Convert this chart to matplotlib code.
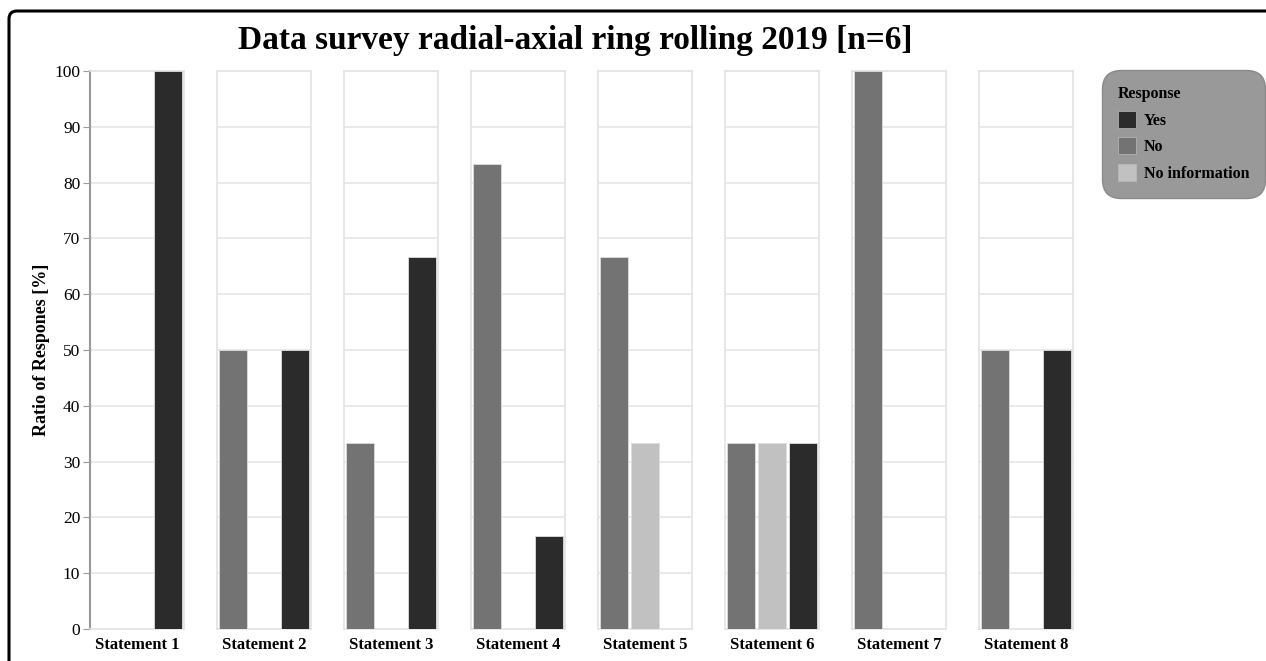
import matplotlib
matplotlib.use("Agg")
import matplotlib.pyplot as plt
from matplotlib.patches import FancyBboxPatch, Patch
from matplotlib.transforms import IdentityTransform
import numpy as np

plt.rcParams['font.family'] = ['Liberation Serif', 'DejaVu Serif']

statements = ['Statement %d' % i for i in range(1, 9)]
responses = ['No', 'No information', 'Yes']
colors = {'Yes': '#2b2b2b', 'No': '#737373', 'No information': '#c1c1c1'}

# percent of n=6 answers per statement
no_vals = [0, 50, 33.33, 83.33, 66.67, 33.33, 100, 50]
noinfo_vals = [0, 0, 0, 0, 33.33, 33.33, 0, 0]
yes_vals = [100, 50, 66.67, 16.67, 0, 33.33, 0, 50]
values = {'No': no_vals, 'No information': noinfo_vals, 'Yes': yes_vals}

W, H = 1266, 661
fig = plt.figure(figsize=(W / 100, H / 100), dpi=100)

# rounded black frame around everything
frame = FancyBboxPatch((9, -30), 1300, H - 11 + 30, boxstyle='round,pad=0,rounding_size=8',
                       transform=IdentityTransform(), facecolor='none', edgecolor='black',
                       linewidth=2.2, zorder=0)
fig.patches.append(frame)

left0, step, pw = 90, 127, 94
top, bottom = 71, 629
for i, st in enumerate(statements):
    ax = fig.add_axes([(left0 + step * i) / W, 1 - bottom / H, pw / W, (bottom - top) / H])
    for j, r in enumerate(responses):
        v = values[r][i]
        if v > 0:
            ax.bar(j, v, width=0.9, color=colors[r], edgecolor='#dddddd', linewidth=0.6, zorder=3)
    ax.set_xlim(-0.5, 2.5)
    ax.set_ylim(0, 100)
    ax.set_yticks(np.arange(0, 101, 10))
    ax.grid(axis='y', color='#e6e6e6', linewidth=1.2, zorder=0)
    ax.set_xticks([])
    for s in ax.spines.values():
        s.set_color('#e3e3e3')
        s.set_linewidth(1.2)
    ax.set_xlabel(st, fontsize=12, fontweight='bold', labelpad=6)
    if i == 0:
        ax.spines['left'].set_color('#999999')
        ax.spines['left'].set_linewidth(1.5)
        ax.tick_params(axis='y', length=5, color='#999999', labelsize=12.5, pad=2)
        ax.set_ylabel('Ratio of Respones [%]', fontsize=13, fontweight='bold', labelpad=3)
    else:
        ax.tick_params(axis='y', length=0, labelleft=False)

fig.text(575 / W, 1 - 41 / H, 'Data survey radial-axial ring rolling 2019 [n=6]',
         ha='center', va='center', fontsize=24, fontweight='bold')

handles = [Patch(facecolor=colors[r], edgecolor='#bbbbbb', linewidth=0.5) for r in ['Yes', 'No', 'No information']]
leg = fig.legend(handles, ['Yes', 'No', 'No information'], title='Response',
                 loc='upper left', bbox_to_anchor=(1102 / W, 1 - 70 / H), borderaxespad=0,
                 prop={'weight': 'bold', 'size': 11.5}, title_fontproperties={'weight': 'bold', 'size': 11.5},
                 alignment='left', facecolor='#999999', edgecolor='#8a8a8a', framealpha=1,
                 fancybox=True, handlelength=1.1, handleheight=1.25, handletextpad=0.5,
                 labelspacing=0.55, borderpad=1.0)
leg.get_frame().set_boxstyle('round,pad=0,rounding_size=1.2')

fig.savefig('out.png', dpi=100)
